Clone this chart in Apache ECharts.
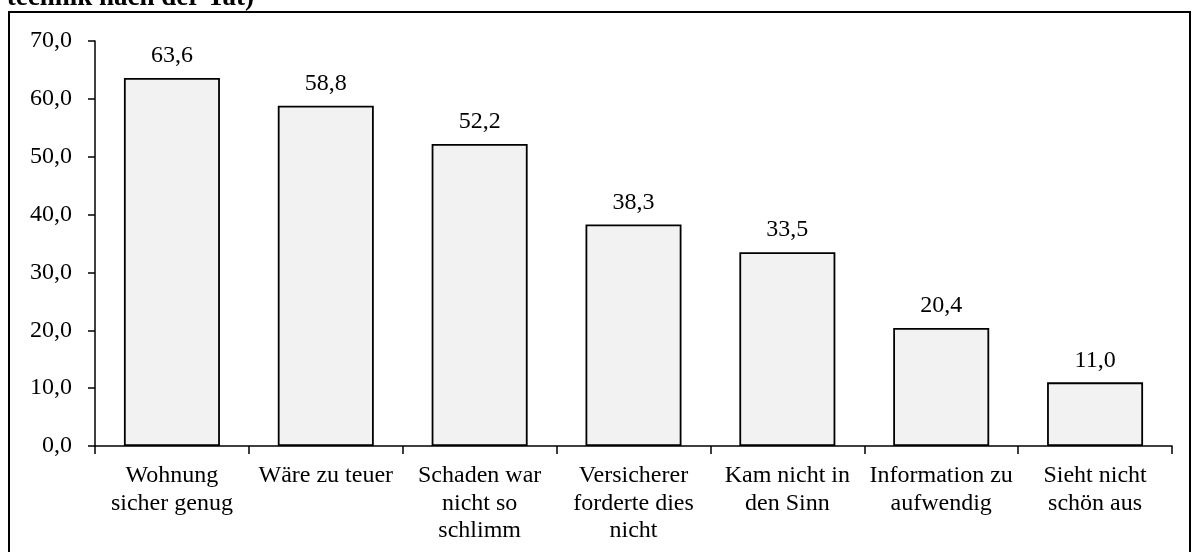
<!DOCTYPE html>
<html>
<head>
<meta charset="utf-8">
<script src="https://cdn.jsdelivr.net/npm/echarts@6/dist/echarts.min.js"></script>
<style>
html,body{margin:0;padding:0;background:#fff;}
#chart{width:1192px;height:552px;}
</style>
</head>
<body>
<div id="chart"></div>
<script>
const categories = [
  "Wohnung\nsicher genug",
  "Wäre zu teuer",
  "Schaden war\nnicht so\nschlimm",
  "Versicherer\nforderte dies\nnicht",
  "Kam nicht in\nden Sinn",
  "Information zu\naufwendig",
  "Sieht nicht\nschön aus"
];
const values = [63.6, 58.8, 52.2, 38.3, 33.5, 20.4, 11.0];
const titleText = "technik nach der Tat)";

const FONT = "'Liberation Serif', 'Times New Roman', serif";
const fmt = v => Number(v).toFixed(1).replace('.', ',');

const chart = echarts.init(document.getElementById('chart'), null, {renderer: 'canvas'});
chart.setOption({
  animation: false,
  backgroundColor: '#ffffff',
  grid: {left: 95, right: 20, top: 41, bottom: 106, containLabel: false},
  graphic: [
    {type: 'text', x: 254, y: 12,
     style: {text: titleText, font: "bold 27px " + FONT, fill: '#000',
             textAlign: 'right', textVerticalAlign: 'bottom'}, silent: true, z: 1},
    {type: 'rect', shape: {x: 9, y: 12, width: 1181, height: 560},
     style: {fill: 'none', stroke: '#000', lineWidth: 2}, silent: true, z: 2}
  ],
  xAxis: {
    type: 'category',
    data: categories,
    boundaryGap: true,
    axisLine: {show: true, lineStyle: {color: '#000', width: 1.5}},
    axisTick: {show: true, length: 8, lineStyle: {color: '#000', width: 1.5}},
    axisLabel: {interval: 0, margin: 16, color: '#000', fontFamily: FONT, fontSize: 24, lineHeight: 27.5}
  },
  yAxis: {
    type: 'value',
    min: 0, max: 70, interval: 10,
    splitLine: {show: false},
    axisLine: {show: true, lineStyle: {color: '#000', width: 1.5}},
    axisTick: {show: true, length: 7, lineStyle: {color: '#000', width: 1.5}},
    axisLabel: {margin: 23, color: '#000', fontFamily: FONT, fontSize: 24, formatter: v => fmt(v)}
  },
  series: [{
    type: 'bar',
    data: values,
    barWidth: 96,
    itemStyle: {color: '#f2f2f2', borderColor: '#000', borderWidth: 1.8},
    label: {show: true, position: 'top', distance: 10, color: '#000', fontFamily: FONT, fontSize: 24,
            formatter: p => fmt(p.value)}
  }]
});
</script>
</body>
</html>
